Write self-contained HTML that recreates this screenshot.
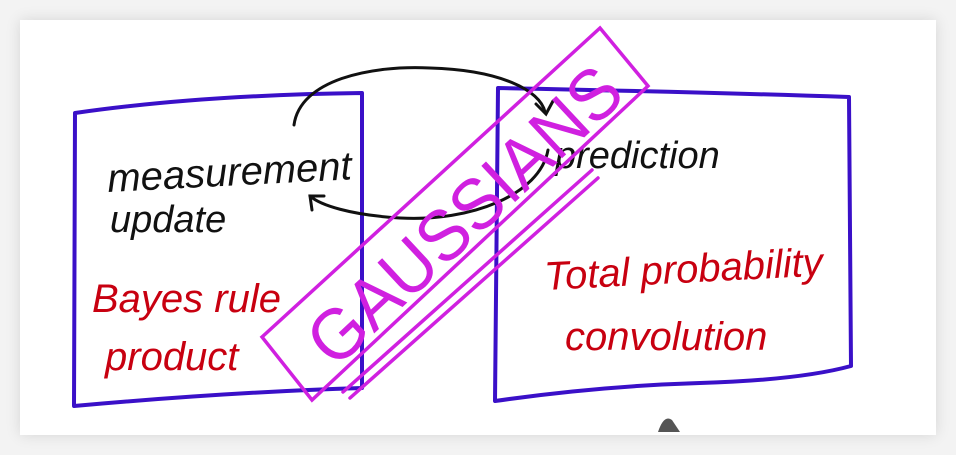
<!DOCTYPE html>
<html><head><style>
html,body{margin:0;padding:0;background:#f3f3f3;}
.card{position:absolute;left:20px;top:20px;width:916px;height:415px;background:#fff;box-shadow:0 0 14px rgba(0,0,0,0.12);}
svg{position:absolute;left:0;top:0;}
</style></head><body>
<div class="card"></div>
<svg width="956" height="455" viewBox="0 0 956 455" xmlns="http://www.w3.org/2000/svg">
<g fill="none" stroke="#3a10c8" stroke-width="4" stroke-linejoin="round" stroke-linecap="round">
<path d="M75,113 Q200,95 362,93 L362,388 Q230,392 74,406 Z"/>
<path d="M498,88 Q700,92 849,97 L851,366 Q800,380 700,383 Q600,386 495,401 Z"/>
</g>
<g fill="none" stroke="#111" stroke-width="3" stroke-linecap="round">
<path d="M294,125 C300,80 370,65 430,68 C500,70 540,90 545,112"/>
<path d="M536,104 L546,114 L553,101"/>
<path d="M548,150 C540,195 470,222 400,218 C350,215 320,205 310,196"/>
<path d="M312,210 L310,196 L324,196"/>
</g>
<g font-family="Liberation Sans, sans-serif" font-style="italic">
<text x="108" y="192" font-size="40" fill="#111" transform="rotate(-3 108 192)">measurement</text>
<text x="110" y="232" font-size="38" fill="#111">update</text>
<text x="555" y="168" font-size="38" fill="#111">prediction</text>
<text x="92" y="312" font-size="40" fill="#c80010">Bayes rule</text>
<text x="105" y="370" font-size="40" fill="#c80010">product</text>
<text x="545" y="290" font-size="40" fill="#c80010" transform="rotate(-3 545 290)">Total probability</text>
<text x="565" y="350" font-size="40" fill="#c80010">convolution</text>
</g>
<g fill="none" stroke="#d020e0" stroke-width="3.5" stroke-linecap="round">
<path d="M262,337 L600,28 L648,86 L312,400 Z"/>
<path d="M343,392 L592,170"/>
<path d="M350,398 L598,178"/>
</g>
<text x="0" y="0" font-family="Liberation Sans, sans-serif" font-size="72" fill="#d020e0" transform="translate(335,370) rotate(-43)" textLength="400" lengthAdjust="spacingAndGlyphs">GAUSSIANS</text>
<path d="M658,432 Q664,414 672,420 L680,432 Z" fill="#555"/>
</svg>
</body></html>
